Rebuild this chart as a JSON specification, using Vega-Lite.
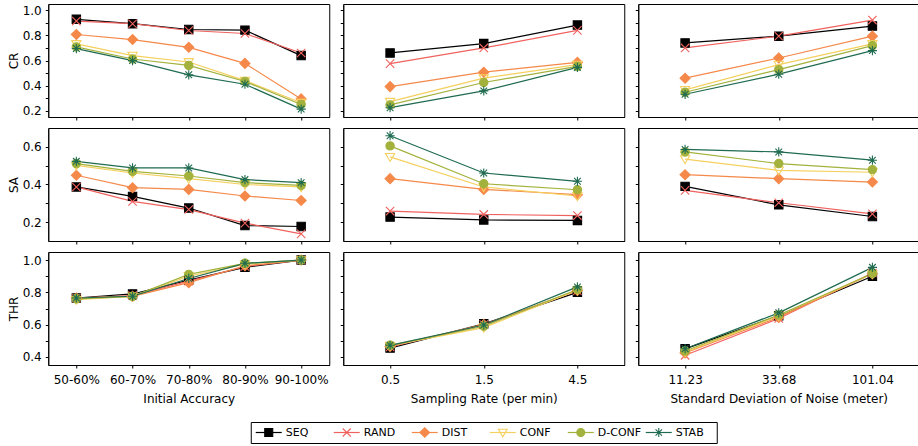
{
"$schema": "https://vega.github.io/schema/vega-lite/v6.json",
"padding": {"left": 6, "top": 3, "right": 2, "bottom": 2},
"datasets": {"d": [
{"e":"A","m":"CR","x":"50-60%","s":"SEQ","v":0.928},{"e":"A","m":"CR","x":"60-70%","s":"SEQ","v":0.893},{"e":"A","m":"CR","x":"70-80%","s":"SEQ","v":0.847},{"e":"A","m":"CR","x":"80-90%","s":"SEQ","v":0.842},{"e":"A","m":"CR","x":"90-100%","s":"SEQ","v":0.639},
{"e":"A","m":"CR","x":"50-60%","s":"RAND","v":0.914},{"e":"A","m":"CR","x":"60-70%","s":"RAND","v":0.893},{"e":"A","m":"CR","x":"70-80%","s":"RAND","v":0.839},{"e":"A","m":"CR","x":"80-90%","s":"RAND","v":0.815},{"e":"A","m":"CR","x":"90-100%","s":"RAND","v":0.66},
{"e":"A","m":"CR","x":"50-60%","s":"DIST","v":0.807},{"e":"A","m":"CR","x":"60-70%","s":"DIST","v":0.767},{"e":"A","m":"CR","x":"70-80%","s":"DIST","v":0.705},{"e":"A","m":"CR","x":"80-90%","s":"DIST","v":0.577},{"e":"A","m":"CR","x":"90-100%","s":"DIST","v":0.294},
{"e":"A","m":"CR","x":"50-60%","s":"CONF","v":0.732},{"e":"A","m":"CR","x":"60-70%","s":"CONF","v":0.639},{"e":"A","m":"CR","x":"70-80%","s":"CONF","v":0.588},{"e":"A","m":"CR","x":"80-90%","s":"CONF","v":0.44},{"e":"A","m":"CR","x":"90-100%","s":"CONF","v":0.264},
{"e":"A","m":"CR","x":"50-60%","s":"D-CONF","v":0.708},{"e":"A","m":"CR","x":"60-70%","s":"D-CONF","v":0.612},{"e":"A","m":"CR","x":"70-80%","s":"D-CONF","v":0.561},{"e":"A","m":"CR","x":"80-90%","s":"D-CONF","v":0.433},{"e":"A","m":"CR","x":"90-100%","s":"D-CONF","v":0.25},
{"e":"A","m":"CR","x":"50-60%","s":"STAB","v":0.695},{"e":"A","m":"CR","x":"60-70%","s":"STAB","v":0.599},{"e":"A","m":"CR","x":"70-80%","s":"STAB","v":0.486},{"e":"A","m":"CR","x":"80-90%","s":"STAB","v":0.411},{"e":"A","m":"CR","x":"90-100%","s":"STAB","v":0.213},
{"e":"R","m":"CR","x":"0.5","s":"SEQ","v":0.66},{"e":"R","m":"CR","x":"1.5","s":"SEQ","v":0.735},{"e":"R","m":"CR","x":"4.5","s":"SEQ","v":0.882},
{"e":"R","m":"CR","x":"0.5","s":"RAND","v":0.575},{"e":"R","m":"CR","x":"1.5","s":"RAND","v":0.70},{"e":"R","m":"CR","x":"4.5","s":"RAND","v":0.84},
{"e":"R","m":"CR","x":"0.5","s":"DIST","v":0.392},{"e":"R","m":"CR","x":"1.5","s":"DIST","v":0.507},{"e":"R","m":"CR","x":"4.5","s":"DIST","v":0.585},
{"e":"R","m":"CR","x":"0.5","s":"CONF","v":0.272},{"e":"R","m":"CR","x":"1.5","s":"CONF","v":0.459},{"e":"R","m":"CR","x":"4.5","s":"CONF","v":0.567},
{"e":"R","m":"CR","x":"0.5","s":"D-CONF","v":0.246},{"e":"R","m":"CR","x":"1.5","s":"D-CONF","v":0.425},{"e":"R","m":"CR","x":"4.5","s":"D-CONF","v":0.553},
{"e":"R","m":"CR","x":"0.5","s":"STAB","v":0.224},{"e":"R","m":"CR","x":"1.5","s":"STAB","v":0.358},{"e":"R","m":"CR","x":"4.5","s":"STAB","v":0.545},
{"e":"N","m":"CR","x":"11.23","s":"SEQ","v":0.74},{"e":"N","m":"CR","x":"33.68","s":"SEQ","v":0.794},{"e":"N","m":"CR","x":"101.04","s":"SEQ","v":0.874},
{"e":"N","m":"CR","x":"11.23","s":"RAND","v":0.70},{"e":"N","m":"CR","x":"33.68","s":"RAND","v":0.794},{"e":"N","m":"CR","x":"101.04","s":"RAND","v":0.922},
{"e":"N","m":"CR","x":"11.23","s":"DIST","v":0.459},{"e":"N","m":"CR","x":"33.68","s":"DIST","v":0.62},{"e":"N","m":"CR","x":"101.04","s":"DIST","v":0.794},
{"e":"N","m":"CR","x":"11.23","s":"CONF","v":0.366},{"e":"N","m":"CR","x":"33.68","s":"CONF","v":0.567},{"e":"N","m":"CR","x":"101.04","s":"CONF","v":0.732},
{"e":"N","m":"CR","x":"11.23","s":"D-CONF","v":0.347},{"e":"N","m":"CR","x":"33.68","s":"D-CONF","v":0.527},{"e":"N","m":"CR","x":"101.04","s":"D-CONF","v":0.719},
{"e":"N","m":"CR","x":"11.23","s":"STAB","v":0.331},{"e":"N","m":"CR","x":"33.68","s":"STAB","v":0.491},{"e":"N","m":"CR","x":"101.04","s":"STAB","v":0.679},
{"e":"A","m":"SA","x":"50-60%","s":"SEQ","v":0.387},{"e":"A","m":"SA","x":"60-70%","s":"SEQ","v":0.337},{"e":"A","m":"SA","x":"70-80%","s":"SEQ","v":0.275},{"e":"A","m":"SA","x":"80-90%","s":"SEQ","v":0.182},{"e":"A","m":"SA","x":"90-100%","s":"SEQ","v":0.177},
{"e":"A","m":"SA","x":"50-60%","s":"RAND","v":0.387},{"e":"A","m":"SA","x":"60-70%","s":"RAND","v":0.31},{"e":"A","m":"SA","x":"70-80%","s":"RAND","v":0.267},{"e":"A","m":"SA","x":"80-90%","s":"RAND","v":0.195},{"e":"A","m":"SA","x":"90-100%","s":"RAND","v":0.138},
{"e":"A","m":"SA","x":"50-60%","s":"DIST","v":0.449},{"e":"A","m":"SA","x":"60-70%","s":"DIST","v":0.383},{"e":"A","m":"SA","x":"70-80%","s":"DIST","v":0.374},{"e":"A","m":"SA","x":"80-90%","s":"DIST","v":0.339},{"e":"A","m":"SA","x":"90-100%","s":"DIST","v":0.315},
{"e":"A","m":"SA","x":"50-60%","s":"CONF","v":0.502},{"e":"A","m":"SA","x":"60-70%","s":"CONF","v":0.461},{"e":"A","m":"SA","x":"70-80%","s":"CONF","v":0.431},{"e":"A","m":"SA","x":"80-90%","s":"CONF","v":0.40},{"e":"A","m":"SA","x":"90-100%","s":"CONF","v":0.387},
{"e":"A","m":"SA","x":"50-60%","s":"D-CONF","v":0.511},{"e":"A","m":"SA","x":"60-70%","s":"D-CONF","v":0.47},{"e":"A","m":"SA","x":"70-80%","s":"D-CONF","v":0.445},{"e":"A","m":"SA","x":"80-90%","s":"D-CONF","v":0.41},{"e":"A","m":"SA","x":"90-100%","s":"D-CONF","v":0.395},
{"e":"A","m":"SA","x":"50-60%","s":"STAB","v":0.523},{"e":"A","m":"SA","x":"60-70%","s":"STAB","v":0.488},{"e":"A","m":"SA","x":"70-80%","s":"STAB","v":0.488},{"e":"A","m":"SA","x":"80-90%","s":"STAB","v":0.426},{"e":"A","m":"SA","x":"90-100%","s":"STAB","v":0.41},
{"e":"R","m":"SA","x":"0.5","s":"SEQ","v":0.227},{"e":"R","m":"SA","x":"1.5","s":"SEQ","v":0.212},{"e":"R","m":"SA","x":"4.5","s":"SEQ","v":0.209},
{"e":"R","m":"SA","x":"0.5","s":"RAND","v":0.259},{"e":"R","m":"SA","x":"1.5","s":"RAND","v":0.241},{"e":"R","m":"SA","x":"4.5","s":"RAND","v":0.235},
{"e":"R","m":"SA","x":"0.5","s":"DIST","v":0.431},{"e":"R","m":"SA","x":"1.5","s":"DIST","v":0.374},{"e":"R","m":"SA","x":"4.5","s":"DIST","v":0.346},
{"e":"R","m":"SA","x":"0.5","s":"CONF","v":0.547},{"e":"R","m":"SA","x":"1.5","s":"CONF","v":0.387},{"e":"R","m":"SA","x":"4.5","s":"CONF","v":0.339},
{"e":"R","m":"SA","x":"0.5","s":"D-CONF","v":0.605},{"e":"R","m":"SA","x":"1.5","s":"D-CONF","v":0.404},{"e":"R","m":"SA","x":"4.5","s":"D-CONF","v":0.372},
{"e":"R","m":"SA","x":"0.5","s":"STAB","v":0.659},{"e":"R","m":"SA","x":"1.5","s":"STAB","v":0.461},{"e":"R","m":"SA","x":"4.5","s":"STAB","v":0.417},
{"e":"N","m":"SA","x":"11.23","s":"SEQ","v":0.39},{"e":"N","m":"SA","x":"33.68","s":"SEQ","v":0.292},{"e":"N","m":"SA","x":"101.04","s":"SEQ","v":0.23},
{"e":"N","m":"SA","x":"11.23","s":"RAND","v":0.369},{"e":"N","m":"SA","x":"33.68","s":"RAND","v":0.303},{"e":"N","m":"SA","x":"101.04","s":"RAND","v":0.244},
{"e":"N","m":"SA","x":"11.23","s":"DIST","v":0.452},{"e":"N","m":"SA","x":"33.68","s":"DIST","v":0.431},{"e":"N","m":"SA","x":"101.04","s":"DIST","v":0.413},
{"e":"N","m":"SA","x":"11.23","s":"CONF","v":0.535},{"e":"N","m":"SA","x":"33.68","s":"CONF","v":0.475},{"e":"N","m":"SA","x":"101.04","s":"CONF","v":0.465},
{"e":"N","m":"SA","x":"11.23","s":"D-CONF","v":0.573},{"e":"N","m":"SA","x":"33.68","s":"D-CONF","v":0.511},{"e":"N","m":"SA","x":"101.04","s":"D-CONF","v":0.479},
{"e":"N","m":"SA","x":"11.23","s":"STAB","v":0.586},{"e":"N","m":"SA","x":"33.68","s":"STAB","v":0.573},{"e":"N","m":"SA","x":"101.04","s":"STAB","v":0.529},
{"e":"A","m":"THR","x":"50-60%","s":"SEQ","v":0.765},{"e":"A","m":"THR","x":"60-70%","s":"SEQ","v":0.79},{"e":"A","m":"THR","x":"70-80%","s":"SEQ","v":0.876},{"e":"A","m":"THR","x":"80-90%","s":"SEQ","v":0.955},{"e":"A","m":"THR","x":"90-100%","s":"SEQ","v":1.0},
{"e":"A","m":"THR","x":"50-60%","s":"RAND","v":0.765},{"e":"A","m":"THR","x":"60-70%","s":"RAND","v":0.78},{"e":"A","m":"THR","x":"70-80%","s":"RAND","v":0.87},{"e":"A","m":"THR","x":"80-90%","s":"RAND","v":0.96},{"e":"A","m":"THR","x":"90-100%","s":"RAND","v":1.0},
{"e":"A","m":"THR","x":"50-60%","s":"DIST","v":0.765},{"e":"A","m":"THR","x":"60-70%","s":"DIST","v":0.775},{"e":"A","m":"THR","x":"70-80%","s":"DIST","v":0.86},{"e":"A","m":"THR","x":"80-90%","s":"DIST","v":0.965},{"e":"A","m":"THR","x":"90-100%","s":"DIST","v":1.0},
{"e":"A","m":"THR","x":"50-60%","s":"CONF","v":0.755},{"e":"A","m":"THR","x":"60-70%","s":"CONF","v":0.775},{"e":"A","m":"THR","x":"70-80%","s":"CONF","v":0.90},{"e":"A","m":"THR","x":"80-90%","s":"CONF","v":0.975},{"e":"A","m":"THR","x":"90-100%","s":"CONF","v":1.0},
{"e":"A","m":"THR","x":"50-60%","s":"D-CONF","v":0.76},{"e":"A","m":"THR","x":"60-70%","s":"D-CONF","v":0.775},{"e":"A","m":"THR","x":"70-80%","s":"D-CONF","v":0.911},{"e":"A","m":"THR","x":"80-90%","s":"D-CONF","v":0.98},{"e":"A","m":"THR","x":"90-100%","s":"D-CONF","v":1.0},
{"e":"A","m":"THR","x":"50-60%","s":"STAB","v":0.765},{"e":"A","m":"THR","x":"60-70%","s":"STAB","v":0.776},{"e":"A","m":"THR","x":"70-80%","s":"STAB","v":0.886},{"e":"A","m":"THR","x":"80-90%","s":"STAB","v":0.98},{"e":"A","m":"THR","x":"90-100%","s":"STAB","v":1.0},
{"e":"R","m":"THR","x":"0.5","s":"SEQ","v":0.455},{"e":"R","m":"THR","x":"1.5","s":"SEQ","v":0.605},{"e":"R","m":"THR","x":"4.5","s":"SEQ","v":0.80},
{"e":"R","m":"THR","x":"0.5","s":"RAND","v":0.462},{"e":"R","m":"THR","x":"1.5","s":"RAND","v":0.60},{"e":"R","m":"THR","x":"4.5","s":"RAND","v":0.81},
{"e":"R","m":"THR","x":"0.5","s":"DIST","v":0.465},{"e":"R","m":"THR","x":"1.5","s":"DIST","v":0.60},{"e":"R","m":"THR","x":"4.5","s":"DIST","v":0.812},
{"e":"R","m":"THR","x":"0.5","s":"CONF","v":0.47},{"e":"R","m":"THR","x":"1.5","s":"CONF","v":0.582},{"e":"R","m":"THR","x":"4.5","s":"CONF","v":0.814},
{"e":"R","m":"THR","x":"0.5","s":"D-CONF","v":0.472},{"e":"R","m":"THR","x":"1.5","s":"D-CONF","v":0.59},{"e":"R","m":"THR","x":"4.5","s":"D-CONF","v":0.818},
{"e":"R","m":"THR","x":"0.5","s":"STAB","v":0.472},{"e":"R","m":"THR","x":"1.5","s":"STAB","v":0.598},{"e":"R","m":"THR","x":"4.5","s":"STAB","v":0.834},
{"e":"N","m":"THR","x":"11.23","s":"SEQ","v":0.45},{"e":"N","m":"THR","x":"33.68","s":"SEQ","v":0.655},{"e":"N","m":"THR","x":"101.04","s":"SEQ","v":0.90},
{"e":"N","m":"THR","x":"11.23","s":"RAND","v":0.41},{"e":"N","m":"THR","x":"33.68","s":"RAND","v":0.638},{"e":"N","m":"THR","x":"101.04","s":"RAND","v":0.92},
{"e":"N","m":"THR","x":"11.23","s":"DIST","v":0.425},{"e":"N","m":"THR","x":"33.68","s":"DIST","v":0.645},{"e":"N","m":"THR","x":"101.04","s":"DIST","v":0.915},
{"e":"N","m":"THR","x":"11.23","s":"CONF","v":0.43},{"e":"N","m":"THR","x":"33.68","s":"CONF","v":0.655},{"e":"N","m":"THR","x":"101.04","s":"CONF","v":0.915},
{"e":"N","m":"THR","x":"11.23","s":"D-CONF","v":0.437},{"e":"N","m":"THR","x":"33.68","s":"D-CONF","v":0.66},{"e":"N","m":"THR","x":"101.04","s":"D-CONF","v":0.917},
{"e":"N","m":"THR","x":"11.23","s":"STAB","v":0.451},{"e":"N","m":"THR","x":"33.68","s":"STAB","v":0.673},{"e":"N","m":"THR","x":"101.04","s":"STAB","v":0.955}
],
"leg": [{"s":"SEQ"},{"s":"RAND"},{"s":"DIST"},{"s":"CONF"},{"s":"D-CONF"},{"s":"STAB"}]
},
"config": {
  "font": "DejaVu Sans",
  "view": {"stroke": "#000", "strokeWidth": 1},
  "axis": {"domainColor": "#000", "tickColor": "#000", "labelColor": "#000", "titleColor": "#000", "labelFont": "DejaVu Sans", "titleFont": "DejaVu Sans", "labelFontSize": 12, "titleFontSize": 12, "titleFontWeight": "normal", "grid": false, "tickSize": 3, "domainWidth": 1}
},
"spacing": 16,
"center": true,
"vconcat": [
{"columns": 3,
 "spacing": {"row": 6, "column": 9},
 "concat": [
{"width": 281, "height": 113, "data": {"name": "d"}, "transform": [{"filter": "datum.e==='A' && datum.m==='CR'"}],
 "encoding": {
  "x": {"field": "x", "type": "ordinal", "sort": ["50-60%","60-70%","70-80%","80-90%","90-100%"], "scale": {"type": "point", "padding": 0.5, "domain": ["50-60%","60-70%","70-80%","80-90%","90-100%"]}, "axis": {"title": null, "labels": false}},
  "y": {"field": "v", "type": "quantitative", "scale": {"domain": [0.15, 1.05], "nice": false, "zero": false}, "axis": {"title": "CR", "values": [0.2,0.3,0.4,0.5,0.6,0.7,0.8,0.9,1.0], "labelExpr": "round(datum.value*10) % 2 === 0 ? format(datum.value, '.1f') : ''", "labelPadding": 4, "titlePadding": 2}},
  "stroke": {"field": "s", "type": "nominal", "legend": null, "scale": {"domain": ["SEQ","RAND","DIST","CONF","D-CONF","STAB"], "range": ["#000000","#f0625f","#f5894a","#f5d05e","#a3b23c","#1f6b50"]}}
 },
 "layer": [
  {"mark": {"type": "line", "strokeWidth": 1.2}},
  {"mark": {"type": "point", "size": 70, "strokeWidth": 1.1, "opacity": 1},
   "encoding": {
    "shape": {"field": "s", "type": "nominal", "legend": null, "scale": {"domain": ["SEQ","RAND","DIST","CONF","D-CONF","STAB"], "range": ["M-1,-1L1,-1L1,1L-1,1Z","M-1,-1L1,1M-1,1L1,-1","M-1.2,0L0,-1.2L1.2,0L0,1.2Z","M-1.1,-0.8L1.1,-0.8L0,1.1Z","M1,0A1,1,0,1,1,-1,0A1,1,0,1,1,1,0Z","M-1.1,0L1.1,0M0,-1.1L0,1.1M-0.8,-0.8L0.8,0.8M-0.8,0.8L0.8,-0.8"]}},
    "fill": {"field": "s", "type": "nominal", "legend": null, "scale": {"domain": ["SEQ","RAND","DIST","CONF","D-CONF","STAB"], "range": ["#000000","transparent","#f5894a","transparent","#a3b23c","transparent"]}}
   }}
 ]},
{"width": 281, "height": 113, "data": {"name": "d"}, "transform": [{"filter": "datum.e==='R' && datum.m==='CR'"}],
 "encoding": {
  "x": {"field": "x", "type": "ordinal", "sort": ["0.5","1.5","4.5"], "scale": {"type": "point", "padding": 0.5, "domain": ["0.5","1.5","4.5"]}, "axis": {"title": null, "labels": false}},
  "y": {"field": "v", "type": "quantitative", "scale": {"domain": [0.15, 1.05], "nice": false, "zero": false}, "axis": {"title": null, "labels": false, "values": [0.2,0.3,0.4,0.5,0.6,0.7,0.8,0.9,1.0]}},
  "stroke": {"field": "s", "type": "nominal", "legend": null}
 },
 "layer": [
  {"mark": {"type": "line", "strokeWidth": 1.2}},
  {"mark": {"type": "point", "size": 70, "strokeWidth": 1.1, "opacity": 1},
   "encoding": {"shape": {"field": "s", "type": "nominal", "legend": null}, "fill": {"field": "s", "type": "nominal", "legend": null}}}
 ]},
{"width": 281, "height": 113, "data": {"name": "d"}, "transform": [{"filter": "datum.e==='N' && datum.m==='CR'"}],
 "encoding": {
  "x": {"field": "x", "type": "ordinal", "sort": ["11.23","33.68","101.04"], "scale": {"type": "point", "padding": 0.5, "domain": ["11.23","33.68","101.04"]}, "axis": {"title": null, "labels": false}},
  "y": {"field": "v", "type": "quantitative", "scale": {"domain": [0.15, 1.05], "nice": false, "zero": false}, "axis": {"title": null, "labels": false, "values": [0.2,0.3,0.4,0.5,0.6,0.7,0.8,0.9,1.0]}},
  "stroke": {"field": "s", "type": "nominal", "legend": null}
 },
 "layer": [
  {"mark": {"type": "line", "strokeWidth": 1.2}},
  {"mark": {"type": "point", "size": 70, "strokeWidth": 1.1, "opacity": 1},
   "encoding": {"shape": {"field": "s", "type": "nominal", "legend": null}, "fill": {"field": "s", "type": "nominal", "legend": null}}}
 ]},
{"width": 281, "height": 113, "data": {"name": "d"}, "transform": [{"filter": "datum.e==='A' && datum.m==='SA'"}],
 "encoding": {
  "x": {"field": "x", "type": "ordinal", "sort": ["50-60%","60-70%","70-80%","80-90%","90-100%"], "scale": {"type": "point", "padding": 0.5, "domain": ["50-60%","60-70%","70-80%","80-90%","90-100%"]}, "axis": {"title": null, "labels": false}},
  "y": {"field": "v", "type": "quantitative", "scale": {"domain": [0.1, 0.7], "nice": false, "zero": false}, "axis": {"title": "SA", "values": [0.2,0.3,0.4,0.5,0.6], "labelExpr": "round(datum.value*10) % 2 === 0 ? format(datum.value, '.1f') : ''", "labelPadding": 4, "titlePadding": 2}},
  "stroke": {"field": "s", "type": "nominal", "legend": null}
 },
 "layer": [
  {"mark": {"type": "line", "strokeWidth": 1.2}},
  {"mark": {"type": "point", "size": 70, "strokeWidth": 1.1, "opacity": 1},
   "encoding": {"shape": {"field": "s", "type": "nominal", "legend": null}, "fill": {"field": "s", "type": "nominal", "legend": null}}}
 ]},
{"width": 281, "height": 113, "data": {"name": "d"}, "transform": [{"filter": "datum.e==='R' && datum.m==='SA'"}],
 "encoding": {
  "x": {"field": "x", "type": "ordinal", "sort": ["0.5","1.5","4.5"], "scale": {"type": "point", "padding": 0.5, "domain": ["0.5","1.5","4.5"]}, "axis": {"title": null, "labels": false}},
  "y": {"field": "v", "type": "quantitative", "scale": {"domain": [0.1, 0.7], "nice": false, "zero": false}, "axis": {"title": null, "labels": false, "values": [0.2,0.3,0.4,0.5,0.6]}},
  "stroke": {"field": "s", "type": "nominal", "legend": null}
 },
 "layer": [
  {"mark": {"type": "line", "strokeWidth": 1.2}},
  {"mark": {"type": "point", "size": 70, "strokeWidth": 1.1, "opacity": 1},
   "encoding": {"shape": {"field": "s", "type": "nominal", "legend": null}, "fill": {"field": "s", "type": "nominal", "legend": null}}}
 ]},
{"width": 281, "height": 113, "data": {"name": "d"}, "transform": [{"filter": "datum.e==='N' && datum.m==='SA'"}],
 "encoding": {
  "x": {"field": "x", "type": "ordinal", "sort": ["11.23","33.68","101.04"], "scale": {"type": "point", "padding": 0.5, "domain": ["11.23","33.68","101.04"]}, "axis": {"title": null, "labels": false}},
  "y": {"field": "v", "type": "quantitative", "scale": {"domain": [0.1, 0.7], "nice": false, "zero": false}, "axis": {"title": null, "labels": false, "values": [0.2,0.3,0.4,0.5,0.6]}},
  "stroke": {"field": "s", "type": "nominal", "legend": null}
 },
 "layer": [
  {"mark": {"type": "line", "strokeWidth": 1.2}},
  {"mark": {"type": "point", "size": 70, "strokeWidth": 1.1, "opacity": 1},
   "encoding": {"shape": {"field": "s", "type": "nominal", "legend": null}, "fill": {"field": "s", "type": "nominal", "legend": null}}}
 ]},
{"width": 281, "height": 113, "data": {"name": "d"}, "transform": [{"filter": "datum.e==='A' && datum.m==='THR'"}],
 "encoding": {
  "x": {"field": "x", "type": "ordinal", "sort": ["50-60%","60-70%","70-80%","80-90%","90-100%"], "scale": {"type": "point", "padding": 0.5, "domain": ["50-60%","60-70%","70-80%","80-90%","90-100%"]}, "axis": {"title": "Initial Accuracy", "labelAngle": 0, "labelPadding": 6, "titlePadding": 8}},
  "y": {"field": "v", "type": "quantitative", "scale": {"domain": [0.35, 1.05], "nice": false, "zero": false}, "axis": {"title": "THR", "values": [0.4,0.5,0.6,0.7,0.8,0.9,1.0], "labelExpr": "round(datum.value*10) % 2 === 0 ? format(datum.value, '.1f') : ''", "labelPadding": 4, "titlePadding": 2}},
  "stroke": {"field": "s", "type": "nominal", "legend": null}
 },
 "layer": [
  {"mark": {"type": "line", "strokeWidth": 1.2}},
  {"mark": {"type": "point", "size": 70, "strokeWidth": 1.1, "opacity": 1},
   "encoding": {"shape": {"field": "s", "type": "nominal", "legend": null}, "fill": {"field": "s", "type": "nominal", "legend": null}}}
 ]},
{"width": 281, "height": 113, "data": {"name": "d"}, "transform": [{"filter": "datum.e==='R' && datum.m==='THR'"}],
 "encoding": {
  "x": {"field": "x", "type": "ordinal", "sort": ["0.5","1.5","4.5"], "scale": {"type": "point", "padding": 0.5, "domain": ["0.5","1.5","4.5"]}, "axis": {"title": "Sampling Rate (per min)", "labelAngle": 0, "labelPadding": 6, "titlePadding": 8}},
  "y": {"field": "v", "type": "quantitative", "scale": {"domain": [0.35, 1.05], "nice": false, "zero": false}, "axis": {"title": null, "labels": false, "values": [0.4,0.5,0.6,0.7,0.8,0.9,1.0]}},
  "stroke": {"field": "s", "type": "nominal", "legend": null}
 },
 "layer": [
  {"mark": {"type": "line", "strokeWidth": 1.2}},
  {"mark": {"type": "point", "size": 70, "strokeWidth": 1.1, "opacity": 1},
   "encoding": {"shape": {"field": "s", "type": "nominal", "legend": null}, "fill": {"field": "s", "type": "nominal", "legend": null}}}
 ]},
{"width": 281, "height": 113, "data": {"name": "d"}, "transform": [{"filter": "datum.e==='N' && datum.m==='THR'"}],
 "encoding": {
  "x": {"field": "x", "type": "ordinal", "sort": ["11.23","33.68","101.04"], "scale": {"type": "point", "padding": 0.5, "domain": ["11.23","33.68","101.04"]}, "axis": {"title": "Standard Deviation of Noise (meter)", "labelAngle": 0, "labelPadding": 6, "titlePadding": 8}},
  "y": {"field": "v", "type": "quantitative", "scale": {"domain": [0.35, 1.05], "nice": false, "zero": false}, "axis": {"title": null, "labels": false, "values": [0.4,0.5,0.6,0.7,0.8,0.9,1.0]}},
  "stroke": {"field": "s", "type": "nominal", "legend": null}
 },
 "layer": [
  {"mark": {"type": "line", "strokeWidth": 1.2}},
  {"mark": {"type": "point", "size": 70, "strokeWidth": 1.1, "opacity": 1},
   "encoding": {"shape": {"field": "s", "type": "nominal", "legend": null}, "fill": {"field": "s", "type": "nominal", "legend": null}}}
 ]}
 ]},
{"width": 466, "height": 21, "data": {"name": "leg"},
 "encoding": {
  "x": {"field": "s", "type": "nominal", "sort": ["SEQ","RAND","DIST","CONF","D-CONF","STAB"], "scale": {"type": "point", "padding": 0.487, "domain": ["SEQ","RAND","DIST","CONF","D-CONF","STAB"]}, "axis": null},
  "y": {"datum": 0.5, "type": "quantitative", "scale": {"domain": [0, 1]}, "axis": null}
 },
 "layer": [
  {"mark": {"type": "rule", "xOffset": -62, "x2Offset": -40, "strokeWidth": 1, "opacity": 0},
   "encoding": {"x2": {"field": "s"}}},
  {"mark": {"type": "rule", "xOffset": -33, "x2Offset": -7, "strokeWidth": 1.2},
   "encoding": {"x2": {"field": "s"}, "stroke": {"field": "s", "type": "nominal", "legend": null}}},
  {"mark": {"type": "point", "size": 64, "strokeWidth": 1.1, "opacity": 1, "xOffset": -20},
   "encoding": {"shape": {"field": "s", "type": "nominal", "legend": null}, "fill": {"field": "s", "type": "nominal", "legend": null}, "stroke": {"field": "s", "type": "nominal", "legend": null}}},
  {"mark": {"type": "text", "align": "left", "baseline": "middle", "dx": -3, "fontSize": 11, "color": "#000", "font": "DejaVu Sans"},
   "encoding": {"text": {"field": "s", "type": "nominal"}}}
 ]}
]
}
